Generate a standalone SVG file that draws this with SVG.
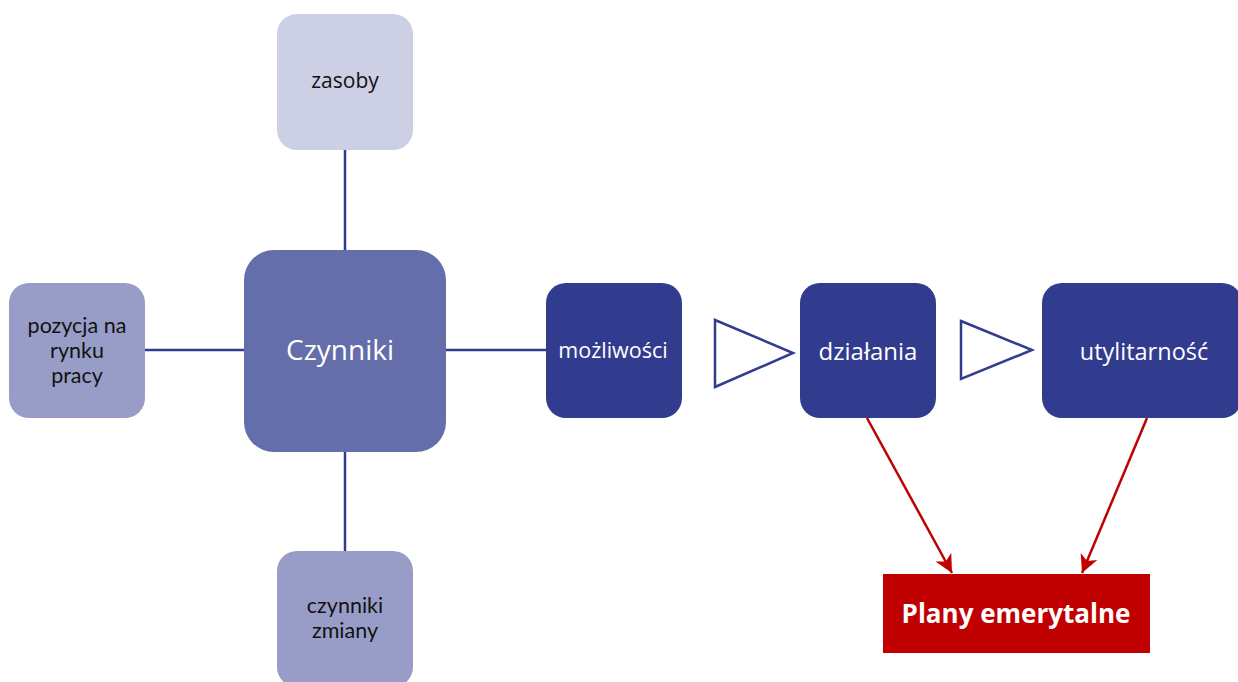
<svg xmlns="http://www.w3.org/2000/svg" width="1238" height="682" viewBox="0 0 1238 682">
<defs>
<style>
.t{font-family:"Open Sans","Noto Sans","Liberation Sans",sans-serif;text-anchor:middle}
.m{font-family:Lato,"Open Sans","Liberation Sans",sans-serif;text-anchor:middle;font-size:21.5px}
.dk{fill:#111111}
.wh{fill:#ffffff}
.line{stroke:#323c8f;stroke-width:2.5;fill:none}
.red{stroke:#c00000;stroke-width:2.5;fill:none}
.tri{fill:#ffffff;stroke:#323c8f;stroke-width:2.5}
</style>
<marker id="ah" viewBox="0 0 20 20" refX="18" refY="10" markerWidth="20" markerHeight="20" markerUnits="userSpaceOnUse" orient="auto">
<path d="M0,1 L18,10 L0,19 L5,10 Z" fill="#c00000"/>
</marker>
</defs>
<rect width="1238" height="682" fill="#ffffff"/>
<g id="connectors">
<line class="line" x1="345" y1="150" x2="345" y2="250"/>
<line class="line" x1="345" y1="452" x2="345" y2="551"/>
<line class="line" x1="145" y1="350" x2="244" y2="350"/>
<line class="line" x1="446" y1="350" x2="546" y2="350"/>
<polygon class="tri" points="715,320 793,353 715,387"/>
<polygon class="tri" points="961,321 1032,350 961,379"/>
<line class="red" x1="867" y1="418" x2="952" y2="573" marker-end="url(#ah)"/>
<line class="red" x1="1147" y1="418" x2="1082" y2="573" marker-end="url(#ah)"/>
</g>
<g id="zasoby">
<rect x="277" y="14" width="136" height="136" rx="20" fill="#cdd0e5"/>
<text class="t dk" x="345" y="88" font-size="21">zasoby</text>
</g>
<g id="pozycja">
<rect x="9" y="283" width="136" height="135" rx="20" fill="#989dc8"/>
<text class="m dk" x="77" y="333">pozycja na</text>
<text class="m dk" x="77" y="358">rynku</text>
<text class="m dk" x="77" y="383">pracy</text>
</g>
<g id="czynniki">
<rect x="244" y="250" width="202" height="202" rx="30" fill="#646eab"/>
<text class="t wh" x="340" y="360" font-size="28">Czynniki</text>
</g>
<g id="czynniki-zmiany">
<rect x="277" y="551" width="136" height="136" rx="20" fill="#989dc8"/>
<text class="m dk" x="345" y="613">czynniki</text>
<text class="m dk" x="345" y="638">zmiany</text>
</g>
<g id="mozliwosci">
<rect x="546" y="283" width="136" height="135" rx="20" fill="#323c8f"/>
<text class="t wh" x="613" y="358" font-size="21.5">możliwości</text>
</g>
<g id="dzialania">
<rect x="800" y="283" width="136" height="135" rx="20" fill="#323c8f"/>
<text class="t wh" x="868" y="360" font-size="24">działania</text>
</g>
<g id="utylitarnosc">
<rect x="1042" y="283" width="200" height="135" rx="20" fill="#323c8f"/>
<text class="t wh" x="1144" y="360" font-size="23.5">utylitarność</text>
</g>
<g id="plany">
<rect x="883" y="574" width="267" height="79" fill="#c00000"/>
<text class="t wh" x="1016" y="623" font-size="26" font-weight="bold">Plany emerytalne</text>
</g>
</svg>
